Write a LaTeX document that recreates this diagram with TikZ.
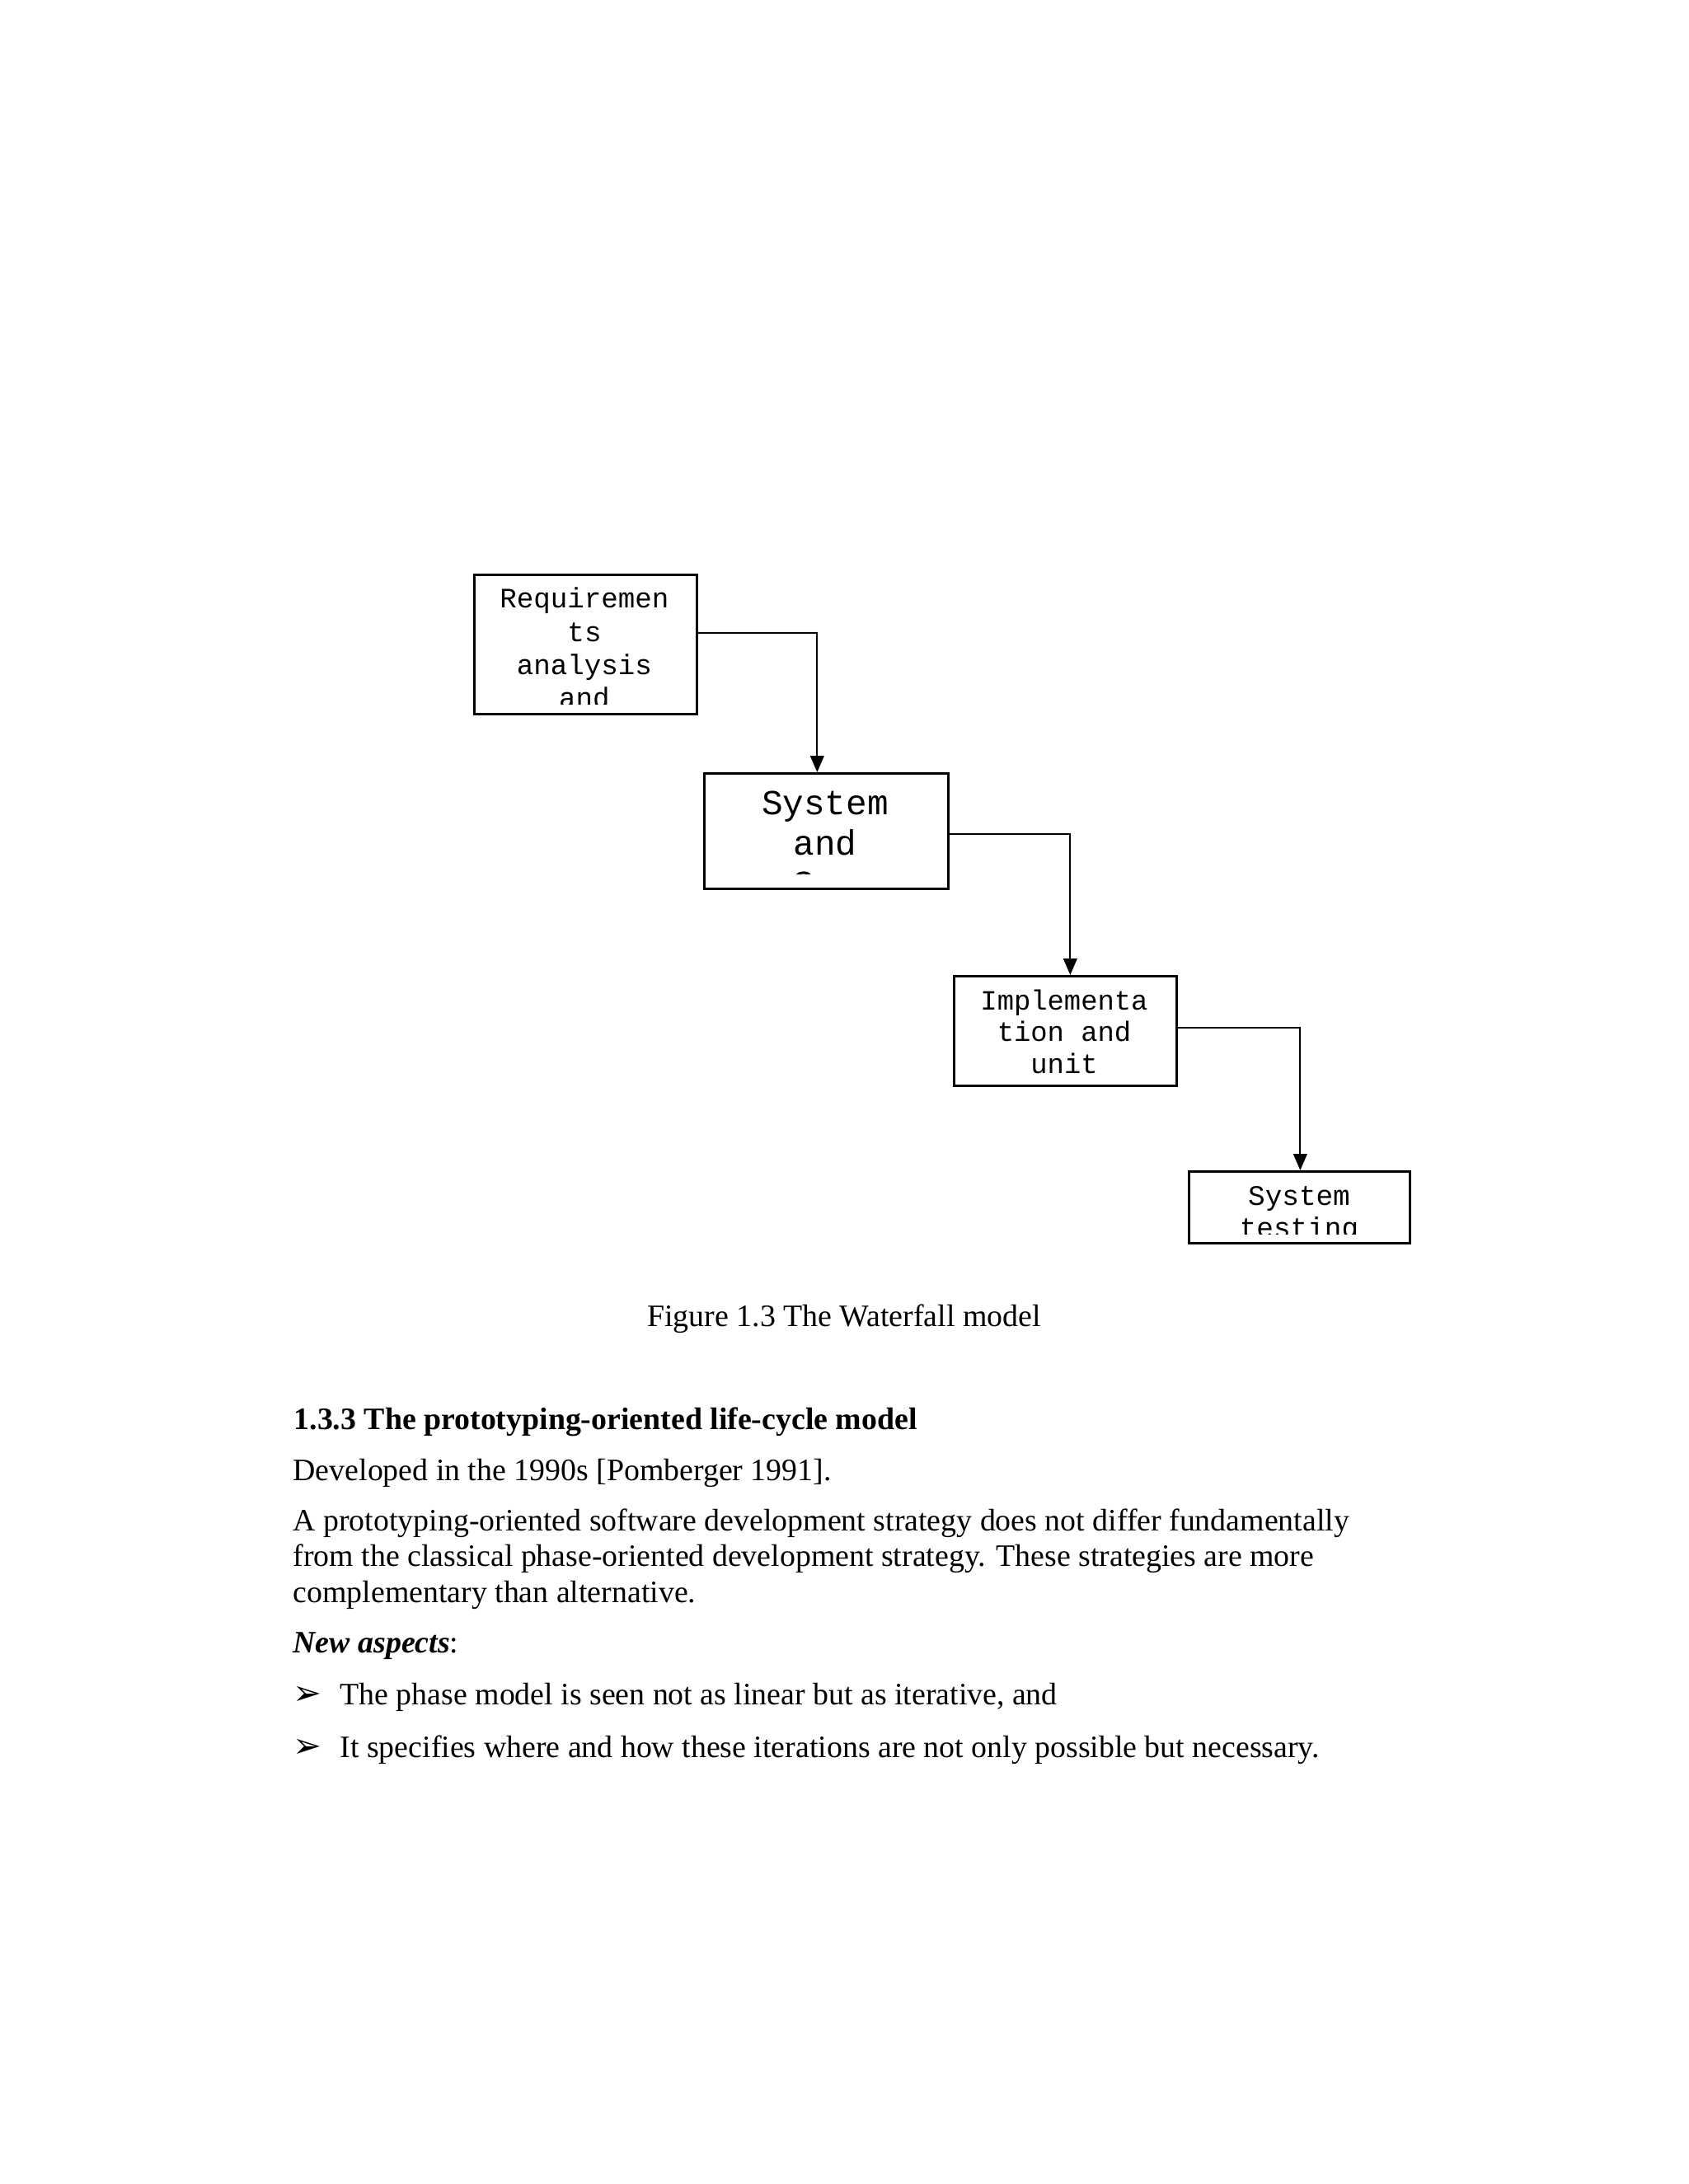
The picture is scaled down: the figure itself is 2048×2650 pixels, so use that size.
\documentclass[tikz,border=0pt]{standalone}
\usepackage{fontspec}
\setmainfont{Liberation Serif}
\newfontfamily\boxfont{Liberation Mono}
\newfontfamily\dingfont{DejaVu Sans}
\usetikzlibrary{arrows.meta,calc}
\newcommand{\pxu}{0.29996pt}
\tikzset{
  phase/.style={draw, line width=0.8pt, inner sep=0pt, anchor=north west},
  phasetext/.style={anchor=base, align=center, inner sep=0pt,
    font=\boxfont\fontsize{10.25}{12}\selectfont},
  flow/.style={line width=0.6pt, -{Triangle[width=5pt,length=6pt]}},
  bodytext/.style={anchor=base west, inner sep=0pt, align=left,
    font=\fontsize{11.35}{13.05}\selectfont},
}

\begin{document}
\begin{tikzpicture}[x=\pxu, y=-\pxu]
    \useasboundingbox (0,0) rectangle (2048,2650);
    % the four phases
    \node[phase, minimum width=270*\pxu, minimum height=169*\pxu] (req) at (574,696) {};
    \node[phase, minimum width=296*\pxu, minimum height=140*\pxu] (sys) at (853,937) {};
    \node[phase, minimum width=270*\pxu, minimum height=133*\pxu] (impl) at (1156,1183) {};
    \node[phase, minimum width=268*\pxu, minimum height=87*\pxu] (test) at (1441,1420) {};
    % texts, cut off at the foot of each box (placed by their last line)
    \begin{scope}
      \clip (req.north west) rectangle ([yshift=13*\pxu]req.south east);
      \node[phasetext] (reqtext) at (709,858) {Requiremen\\ts\\analysis\\and};
    \end{scope}
    \begin{scope}
      \clip (sys.north west) rectangle ([yshift=19*\pxu]sys.south east);
      \node[phasetext, font=\boxfont\fontsize{12.8}{14.7}\selectfont] (systext) at (1001,1086) {System\\and\\Spe};
    \end{scope}
    \begin{scope}
      \clip (impl.north west) rectangle ([yshift=8*\pxu]impl.south east);
      \node[phasetext, font=\boxfont\fontsize{10.15}{11.55}\selectfont] (impltext) at (1291,1302) {Implementa\\tion and\\unit};
    \end{scope}
    \begin{scope}
      \clip (test.north west) rectangle ([yshift=12*\pxu]test.south east);
      \node[phasetext, font=\boxfont\fontsize{10.3}{11.7}\selectfont] (testtext) at (1576,1501) {System\\testing};
    \end{scope}
    % connectors
    \draw[flow] ([yshift=13.5*\pxu]req.east) -| ([xshift=-11*\pxu]sys.north);
    \draw[flow] ([yshift=-4*\pxu]sys.east) -| ([xshift=6*\pxu]impl.north);
    \draw[flow] ([yshift=3.5*\pxu]impl.east) -| ([xshift=1*\pxu]test.north);
    % caption and text below
    \node[anchor=base, inner sep=0pt, font=\fontsize{11.35}{13.05}\selectfont] (caption) at (1024,1609) {Figure 1.3 The Waterfall model};
    \node[bodytext, font=\bfseries\fontsize{11.35}{13.05}\selectfont] (head) at (356,1734) {1.3.3 The prototyping-oriented life-cycle model};
    \node[bodytext] (dev) at (355,1796) {Developed in the 1990s [Pomberger 1991].};
    \node[bodytext] (para) at (355,1944) {A prototyping-oriented software development strategy does not differ fundamentally\\from the classical phase-oriented development strategy. These strategies are more\\complementary than alternative.};
    \node[bodytext] (aspects) at (355,2005) {\textbf{\textit{New aspects}}:};
    \node[bodytext, font=\dingfont\fontsize{12.5}{13}\selectfont] (dot1) at (355,2068) {➢};
    \node[bodytext] (item1) at (412,2068) {The phase model is seen not as linear but as iterative, and};
    \node[bodytext, font=\dingfont\fontsize{12.5}{13}\selectfont] (dot2) at (355,2132) {➢};
    \node[bodytext] (item2) at (412,2132) {It specifies where and how these iterations are not only possible but necessary.};
\end{tikzpicture}
\end{document}
